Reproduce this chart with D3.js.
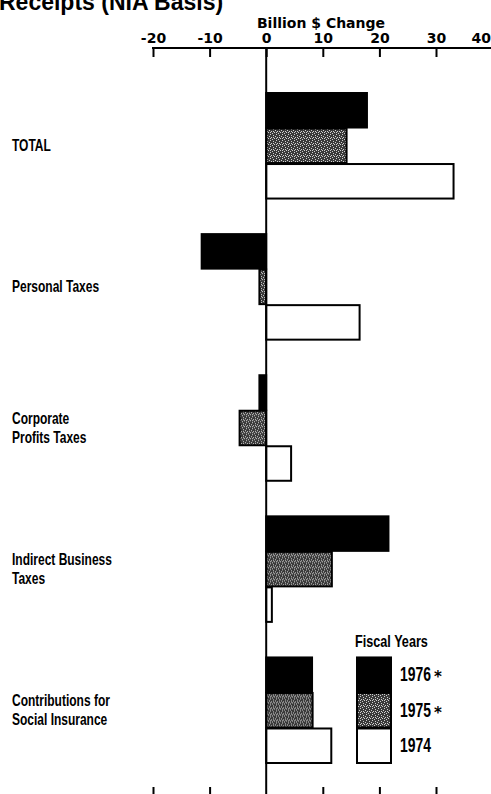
<!DOCTYPE html>
<html>
<head>
<meta charset="utf-8">
<script src="https://cdn.jsdelivr.net/npm/d3@7"></script>
<style>
  html, body { margin: 0; padding: 0; background: #fff; }
  svg { display: block; }
  .lab { font-family: "Liberation Sans", Arial, sans-serif; font-weight: bold; fill: #000; }
  .ax { font-family: "DejaVu Sans", sans-serif; font-weight: bold; font-size: 14px; fill: #000; }
</style>
</head>
<body>
<script>
// ---- data ----
const categories = ["TOTAL", "Personal Taxes", "Corporate Profits Taxes", "Indirect Business Taxes", "Contributions for Social Insurance"];
const categoryLines = [["TOTAL"], ["Personal Taxes"], ["Corporate", "Profits Taxes"], ["Indirect Business", "Taxes"], ["Contributions for", "Social Insurance"]];
const years = ["1976", "1975", "1974"];
const yearLabels = ["1976", "1975", "1974"];
const yearMarks = ["*", "*", ""];
const values1976 = [17.8, -11.4, -1.2, 21.6, 8.1];
const values1975 = [14.2, -1.2, -4.7, 11.6, 8.2];
const values1974 = [33.1, 16.5, 4.4, 1.0, 11.5];
const tickValues = [-20, -10, 0, 10, 20, 30, 40];
const title = "Receipts (NIA Basis)";
const axisTitle = "Billion $ Change";
const legendTitle = "Fiscal Years";

const seriesValues = { "1976": values1976, "1975": values1975, "1974": values1974 };

const W = 491, H = 794;
const svg = d3.select("body").append("svg").attr("width", W).attr("height", H);

// patterns
const defs = svg.append("defs");
const pat = defs.append("pattern").attr("id", "stipple").attr("patternUnits", "userSpaceOnUse")
  .attr("width", 6).attr("height", 6);
pat.append("rect").attr("width", 6).attr("height", 6).attr("fill", "#3a3a3a");
[[0,0],[3,1],[1,3],[4,4],[2,5],[5,2],[0,4],[3,3]].forEach(([px,py]) => {
  pat.append("rect").attr("x", px).attr("y", py).attr("width", 1).attr("height", 1).attr("fill", "#d0d0d0");
});

const fills = { "1976": "#000", "1975": "url(#stipple)", "1974": "#fff" };

// scales
const x = d3.scaleLinear().domain([-20, 40]).range([153, 492.6]);
const y0 = d3.scaleBand().domain(categories).range([92, 763]).paddingInner(0.245).paddingOuter(0);
const y1 = d3.scaleBand().domain(years).range([0, y0.bandwidth()]).padding(0);

// condensed text helper: scale horizontally so a reference string has a target width
function measure(str, size) {
  const t = svg.append("text").attr("class", "lab").attr("font-size", size).text(str);
  const w = t.node().getComputedTextLength();
  t.remove();
  return w;
}
function condText(px, py, str, size, sx) {
  const g = svg.append("g").attr("transform", `translate(${px},${py}) scale(${sx},1)`);
  g.append("text").attr("class", "lab").attr("font-size", size).attr("x", 0).attr("y", 0).text(str);
  return g;
}

// title (cut off at top)
svg.append("text").attr("x", -1).attr("y", 10)
  .attr("font-family", "Liberation Sans, Arial, sans-serif").attr("font-weight", "bold").attr("font-size", 23)
  .text(title);

// axis title
svg.append("text").attr("class", "ax").attr("x", 321).attr("y", 28).attr("text-anchor", "middle").text(axisTitle);

// top axis
const axisTop = d3.axisTop(x).tickValues(tickValues).tickSize(-9).tickFormat(d => String(d));
const gTop = svg.append("g").attr("transform", "translate(0,48)").call(axisTop);
gTop.select(".domain").remove();
gTop.selectAll(".tick line").attr("stroke", "#000").attr("stroke-width", 2);
gTop.selectAll(".tick text").attr("class", "ax").attr("y", -5).attr("dy", 0)
  .attr("text-anchor", d => d === 40 ? "end" : "middle")
  .attr("x", d => d === 40 ? -2 : 0);
svg.append("line").attr("x1", x(-20) - 1).attr("x2", W).attr("y1", 48).attr("y2", 48)
  .attr("stroke", "#000").attr("stroke-width", 2);

// bottom ticks
const axisBottom = d3.axisBottom(x).tickValues(tickValues.filter(d => d !== 0)).tickSize(-9).tickFormat("");
const gBot = svg.append("g").attr("transform", "translate(0,796)").call(axisBottom);
gBot.select(".domain").remove();
gBot.selectAll(".tick line").attr("stroke", "#000").attr("stroke-width", 2);

// bars
const groups = svg.append("g").selectAll("g").data(categories).join("g")
  .attr("transform", d => `translate(0,${y0(d)})`);
groups.selectAll("rect").data((c, i) => years.map(yr => ({ yr, v: seriesValues[yr][i] }))).join("rect")
  .attr("x", d => x(Math.min(0, d.v)))
  .attr("y", d => y1(d.yr) + 1)
  .attr("width", d => Math.abs(x(d.v) - x(0)))
  .attr("height", y1.bandwidth() - 1)
  .attr("fill", d => fills[d.yr])
  .attr("stroke", "#000").attr("stroke-width", 2);

// zero line
svg.append("line").attr("x1", x(0)).attr("x2", x(0)).attr("y1", 48).attr("y2", H)
  .attr("stroke", "#000").attr("stroke-width", 2);

// category labels (condensed)
const labSize = 16;
const labSx = 98 / measure("Contributions for", labSize);
categories.forEach((c, i) => {
  const lines = categoryLines[i];
  const cy = y0(c) + y0.bandwidth() / 2;
  const lh = 19;
  lines.forEach((ln, j) => {
    condText(12, cy + 6 + (j - (lines.length - 1) / 2) * lh, ln, labSize, labSx);
  });
});

// legend
const lastCat = categories[categories.length - 1];
const ly = y0(lastCat);
const lx = 357;
const legSx = 73 / measure(legendTitle, 16);
condText(355, 647, legendTitle, 16, legSx);
const yrSx = 31 / measure("1976", 20);
years.forEach((yr, i) => {
  svg.append("rect").attr("x", lx).attr("y", ly + y1(yr) + 1).attr("width", 34).attr("height", y1.bandwidth() - 1)
    .attr("fill", fills[yr]).attr("stroke", "#000").attr("stroke-width", 2);
  const cy = ly + y1(yr) + y1.bandwidth() / 2 + 7;
  condText(400, cy, yearLabels[i], 20, yrSx);
  if (yearMarks[i]) {
    svg.append("text").attr("x", 434).attr("y", cy + 1).attr("font-family", "DejaVu Sans, sans-serif")
      .attr("font-weight", "bold").attr("font-size", 15).text(yearMarks[i]);
  }
});
</script>
</body>
</html>
